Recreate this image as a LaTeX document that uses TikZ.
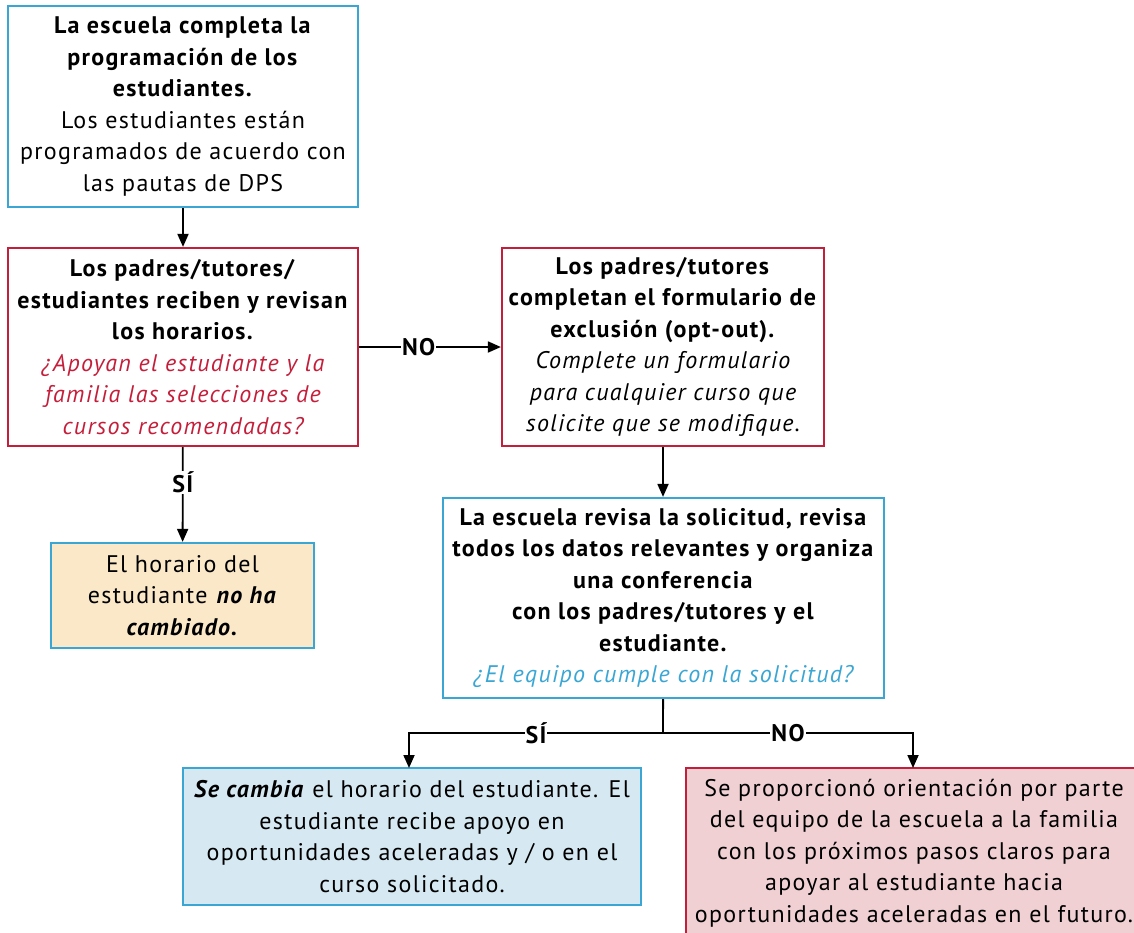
\documentclass[tikz,border=0pt]{standalone}
\usepackage{fontspec}
\setmainfont[LetterSpace=5.5]{PT Sans}
\usepackage{xcolor}
\usepackage{tikz}
\usetikzlibrary{positioning}
\usetikzlibrary{arrows.meta}
\definecolor{dpsblue}{HTML}{3AA6D3}
\definecolor{dpsred}{HTML}{C41E3A}
\definecolor{tanfill}{HTML}{FAE8C8}
\definecolor{bluefill}{HTML}{D6E9F2}
\definecolor{pinkfill}{HTML}{F0D0D3}
\tikzset{
    mybox/.style = {rectangle, align=center, line width=2.2pt, inner sep=0pt, font=\fontsize{24}{31.5}\selectfont},
    bluebox/.style = {mybox, draw=dpsblue},
    redbox/.style = {mybox, draw=dpsred},
}

\begin{document}
\begin{tikzpicture}[
	x=1pt,
	y=-1pt
]
\tikzset{
    edgea/.style = {-{Triangle[length=13pt,width=11pt]}, line width=1.8pt},
    edgen/.style = {-, line width=1.8pt},
    lbl/.style = {fill=white, inner sep=1pt, font=\fontsize{24}{24}\selectfont\bfseries}
}
\useasboundingbox (0,0) rectangle (1134,932);
\node[bluebox, minimum width=350pt, minimum height=201pt] at (183,106.5) (a)
  {\textbf{La escuela completa la}\\ \textbf{programación de los}\\ \textbf{estudiantes.}\\
   Los estudiantes están\\ programados de acuerdo con\\ las pautas de DPS};
\node[redbox, minimum width=350pt, minimum height=198pt] at (183,347) (b)
  {\textbf{Los padres/tutores/}\\ \textbf{estudiantes reciben y revisan}\\ \textbf{los horarios.}\\
   \color{dpsred}\itshape ¿Apoyan el estudiante y la\\ \color{dpsred}\itshape familia las selecciones de\\ \color{dpsred}\itshape cursos recomendadas?};
\node[redbox, minimum width=322pt, minimum height=198pt] at (663,347) (c)
  {\textbf{Los padres/tutores}\\ \textbf{completan el formulario de}\\ \textbf{exclusión (opt-out).}\\
   \itshape Complete un formulario\\ \itshape para cualquier curso que\\ \itshape solicite que se modifique.};
\node[bluebox, fill=tanfill, minimum width=263pt, minimum height=105pt] at (182.5,595.5) (d)
  {El horario del\\ estudiante \textbf{\textit{no ha}}\\ \textbf{\textit{cambiado.}}};
\node[bluebox, minimum width=441pt, minimum height=200pt] at (663.5,598) (e)
  {\textbf{La escuela revisa la solicitud, revisa}\\ \textbf{todos los datos relevantes y organiza}\\ \textbf{una conferencia}\\
   \textbf{con los padres/tutores y el}\\ \textbf{estudiante.}\\ \color{dpsblue}\itshape ¿El equipo cumple con la solicitud?};
\node[bluebox, fill=bluefill, minimum width=458pt, minimum height=137pt] at (412,836.5) (f)
  {\textbf{\textit{Se cambia}} el horario del estudiante. El\\ estudiante recibe apoyo en\\
   oportunidades aceleradas y / o en el\\ curso solicitado.};
\node[redbox, fill=pinkfill, minimum width=456pt, minimum height=170pt] at (914,853) (g)
  {Se proporcionó orientación por parte\\ del equipo de la escuela a la familia\\ con los próximos pasos claros para\\
   apoyar al estudiante hacia\\ oportunidades aceleradas en el futuro.};
\coordinate (split) at (663,733);
\coordinate (ftop) at (409,768);
\coordinate (gtop) at (913,768);
%
\draw[edgea] (a) -- (b);
\draw[edgea] (b) -- node[lbl, pos=0.42] {NO} (c);
\draw[edgea] (b) -- node[lbl, pos=0.37] {SÍ} (d);
\draw[edgea] (c) -- (c |- e.north);
%
\draw[edgen] (e) -- (split);
\draw[edgea] (split) -| node[lbl, pos=0.25] {SÍ} (ftop);
\draw[edgea] (split) -| node[lbl, pos=0.25] {NO} (gtop);
\end{tikzpicture}
\end{document}
